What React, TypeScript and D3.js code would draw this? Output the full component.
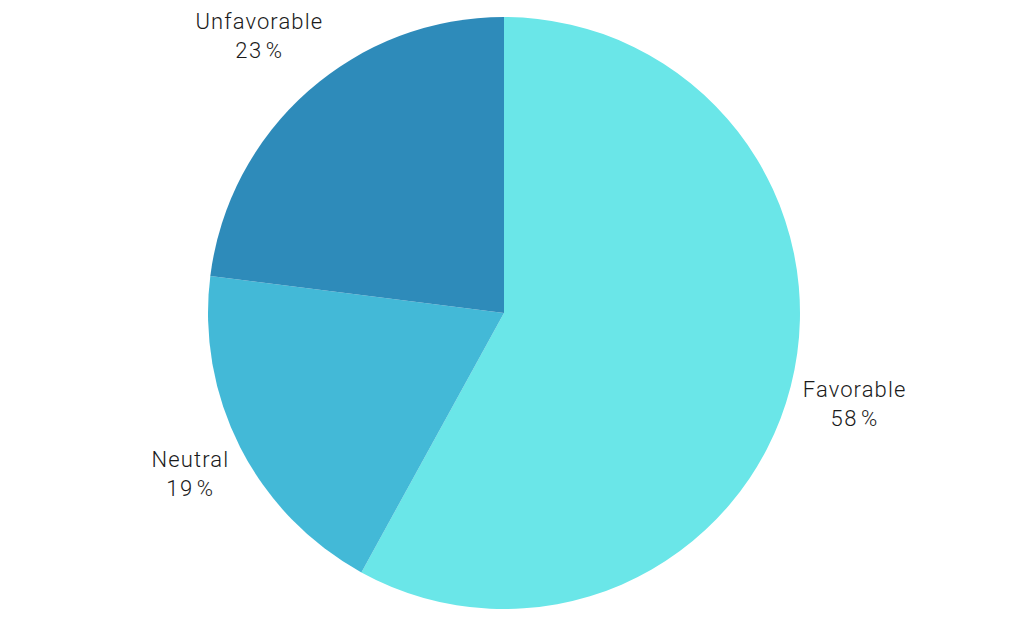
import React from "react";
import * as d3 from "d3";

const categories = ["Favorable", "Neutral", "Unfavorable"];
const values = [58, 19, 23];
const colors = ["#6ae6e8", "#43b9d7", "#2e8bba"];
const labelRadii = [362, 352, 370];

const W = 1024;
const H = 620;
const cx = 504;
const cy = 313;
const R = 296;

export default function App() {
  const data = categories.map((c, i) => ({ c, v: values[i], i }));
  const pie = d3.pie<any>().value((d) => d.v).sort(null)(data);
  const arc = d3.arc<any>().innerRadius(0).outerRadius(R);
  return (
    <svg width={W} height={H} style={{ position: "absolute", left: 0, top: 0, background: "#fff" }}>
      <g transform={`translate(${cx},${cy})`}>
        {pie.map((p, i) => (
          <path key={i} d={arc(p) as string} fill={colors[i]} />
        ))}
        {pie.map((p, i) => {
          const mid = (p.startAngle + p.endAngle) / 2;
          const lr = labelRadii[i];
          const x = Math.sin(mid) * lr;
          const y = -Math.cos(mid) * lr;
          return (
            <text
              key={"t" + i}
              x={x}
              y={y}
              textAnchor="middle"
              fontFamily="Roboto, 'Liberation Sans', sans-serif"
              fontWeight={300}
              fontSize={22}
              fill="#1a1a1a"
            >
              <tspan x={x} dy={-6} letterSpacing={1.1}>{p.data.c}</tspan>
              <tspan x={x} dy={29} letterSpacing={1.5}>
                {String(p.data.v)}
                <tspan dx={3}>%</tspan>
              </tspan>
            </text>
          );
        })}
      </g>
    </svg>
  );
}
